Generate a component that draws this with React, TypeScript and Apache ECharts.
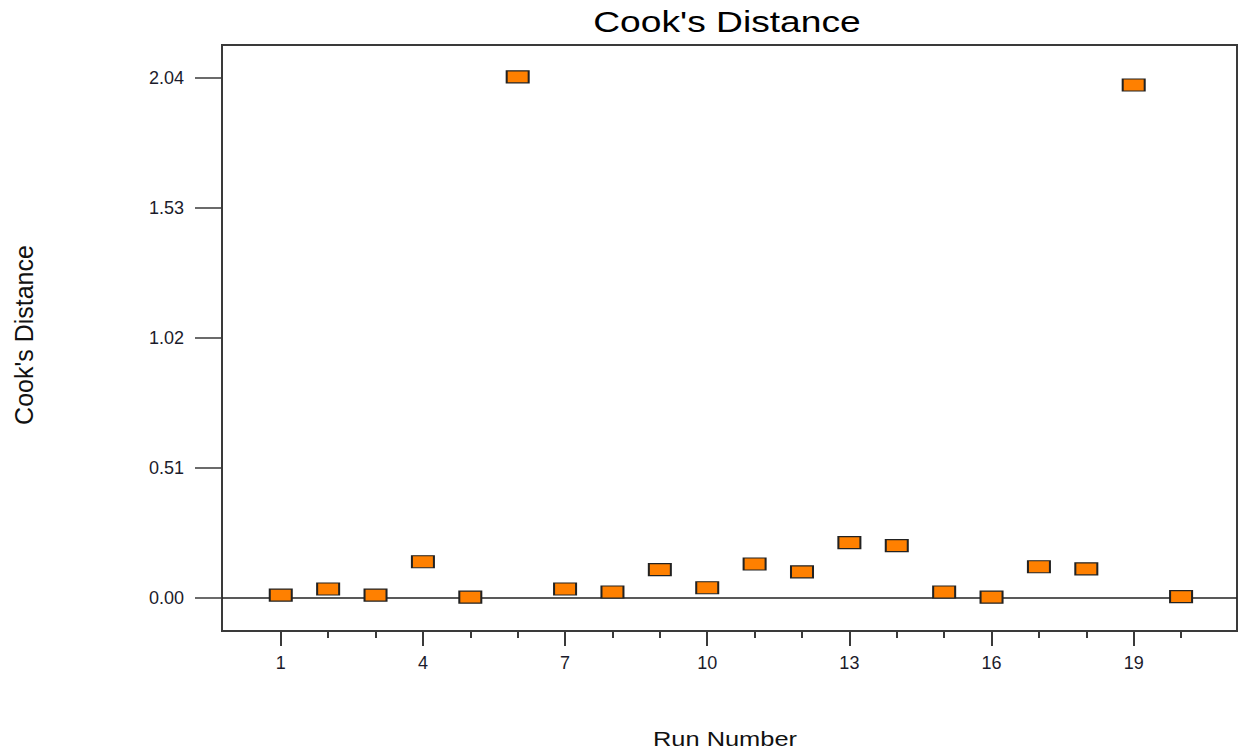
import React, { useEffect, useRef } from "react";
import * as echarts from "echarts";

const runNumbers = [1, 2, 3, 4, 5, 6, 7, 8, 9, 10, 11, 12, 13, 14, 15, 16, 17, 18, 19, 20];
const cooksDistance = [
  0.011, 0.035, 0.011, 0.142, 0.003, 2.045, 0.035, 0.023, 0.111, 0.04,
  0.133, 0.102, 0.217, 0.205, 0.023, 0.003, 0.122, 0.114, 2.013, 0.005,
];
const yTickValues = [0, 0.51, 1.02, 1.53, 2.04];
const xMajorTicks = [1, 4, 7, 10, 13, 16, 19];
const xMinorTicks = runNumbers;

const FONT = "'Liberation Sans', Arial, sans-serif";
const AXIS_COLOR = "#3a3a3a";

export default function App() {
  const ref = useRef<HTMLDivElement>(null);

  useEffect(() => {
    if (!ref.current) return;
    const chart = echarts.init(ref.current, undefined, { renderer: "svg" });
    const points = runNumbers.map((r, i) => [r, cooksDistance[i]]);

    chart.setOption({
      animation: false,
      backgroundColor: "#ffffff",
      grid: {
        left: 222,
        right: 2,
        top: 45,
        bottom: 125,
        show: true,
        borderColor: AXIS_COLOR,
        borderWidth: 2,
        backgroundColor: "transparent",
      },
      graphic: [
        {
          type: "text",
          x: 727,
          y: 21,
          scaleX: 1.24,
          style: {
            text: "Cook's Distance",
            fontFamily: FONT,
            fontSize: 30,
            fill: "#000",
            textAlign: "center",
            textVerticalAlign: "middle",
          },
        },
        {
          type: "text",
          x: 725,
          y: 739,
          scaleX: 1.24,
          style: {
            text: "Run Number",
            fontFamily: FONT,
            fontSize: 20.5,
            fill: "#111",
            textAlign: "center",
            textVerticalAlign: "middle",
          },
        },
        {
          type: "text",
          x: 24,
          y: 335,
          rotation: Math.PI / 2,
          style: {
            text: "Cook's Distance",
            fontFamily: FONT,
            fontSize: 25,
            fill: "#111",
            textAlign: "center",
            textVerticalAlign: "middle",
          },
        },
      ],
      xAxis: [
        {
          type: "value",
          min: -0.24,
          max: 21.18,
          position: "bottom",
          splitLine: { show: false },
          axisLine: { show: true, onZero: false, lineStyle: { color: AXIS_COLOR, width: 2 } },
          axisTick: {
            show: true,
            customValues: xMajorTicks,
            length: 15,
            lineStyle: { color: AXIS_COLOR, width: 2 },
          },
          axisLabel: {
            show: true,
            customValues: xMajorTicks,
            margin: 23,
            fontFamily: FONT,
            fontSize: 18,
            color: "#1b1b2b",
          },
        },
        {
          type: "value",
          min: -0.24,
          max: 21.18,
          position: "bottom",
          splitLine: { show: false },
          axisLine: { show: false, onZero: false },
          axisTick: {
            show: true,
            customValues: xMinorTicks,
            length: 7,
            lineStyle: { color: AXIS_COLOR, width: 2 },
          },
          axisLabel: { show: false },
        },
      ],
      yAxis: {
        type: "value",
        min: -0.13,
        max: 2.17,
        position: "left",
        splitLine: { show: false },
        axisLine: { show: true, onZero: false, lineStyle: { color: AXIS_COLOR, width: 2 } },
        axisTick: {
          show: true,
          customValues: yTickValues,
          length: 27,
          lineStyle: { color: AXIS_COLOR, width: 1.5 },
        },
        axisLabel: {
          show: true,
          customValues: yTickValues,
          margin: 38,
          fontFamily: FONT,
          fontSize: 18,
          color: "#1b1b2b",
          formatter: (v: number) => v.toFixed(2),
        },
      },
      series: [
        {
          type: "scatter",
          xAxisIndex: 0,
          yAxisIndex: 0,
          data: points,
          symbol: "rect",
          symbolSize: [22, 12],
          itemStyle: {
            color: "#FF8000",
            borderColor: "#222",
            borderWidth: 1.5,
            opacity: 1,
          },
          z: 5,
          markLine: {
            silent: true,
            symbol: ["none", "none"],
            label: { show: false },
            lineStyle: { color: "#222", width: 1.5, type: "solid" },
            data: [{ yAxis: 0 }],
            z: 3,
          },
        },
      ],
    });

    return () => chart.dispose();
  }, []);

  return (
    <div
      ref={ref}
      style={{ position: "fixed", left: 0, top: 0, width: 1239, height: 756 }}
    />
  );
}
